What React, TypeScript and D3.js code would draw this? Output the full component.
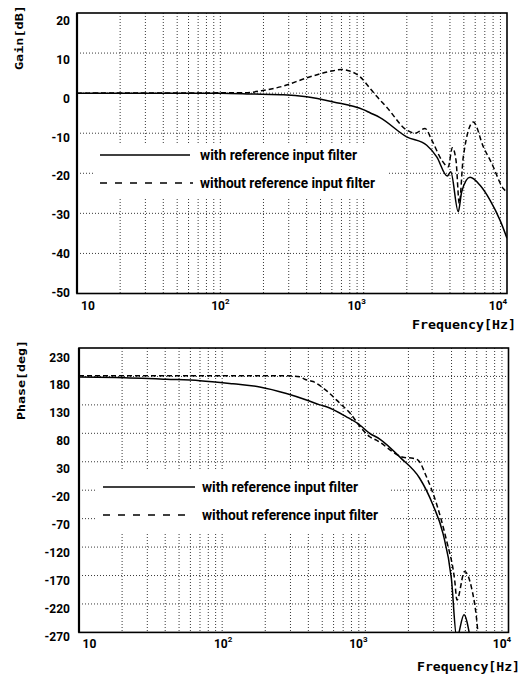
import React from 'react';
import * as d3 from 'd3';

// ---------- data ----------
const gainTicks = [20, 10, 0, -10, -20, -30, -40, -50];
const phaseTicks = [230, 180, 130, 80, 30, -20, -70, -120, -170, -220, -270];
const decades = [10, 100, 1000, 10000];
const decadeExps = ['', '2', '3', '4'];
const legendLabels = ['with reference input filter', 'without reference input filter'];

// Gain [dB] with reference input filter (solid)
const gainFreqWith = [10, 100, 161, 194, 275, 400, 614, 994, 1107, 1300, 1996, 2754, 3234, 3833, 4050, 4571, 4830, 5520, 6487, 7610, 8935, 10000];
const gainWith = [0, 0, -0.2, -0.3, -0.4, -0.9, -2.2, -4.1, -4.9, -6.1, -10.9, -13, -15.9, -20.7, -19.6, -29.6, -24.6, -21, -23, -26.7, -31.7, -36.2];

// Gain [dB] without reference input filter (dashed)
const gainFreqWithout = [10, 150, 194, 275, 400, 614, 700, 800, 943, 1107, 1233, 1448, 1996, 2281, 2679, 2984, 3504, 3895, 4154, 4406, 4645, 4955, 5820, 6840, 7820, 9420, 10000];
const gainWithout = [0, 0.1, 0.6, 1.75, 3.8, 5.6, 5.9, 5.5, 4.1, 1.2, -0.8, -3.5, -9.2, -10, -8.8, -11.7, -16.7, -18.4, -13.6, -16.7, -27.5, -15.9, -7.2, -13.4, -17.5, -23.8, -24.7];

// Phase [deg] with reference input filter (solid)
const phaseFreqWith = [10, 18, 41, 70, 119, 183, 281, 388, 481, 535, 738, 914, 1073, 1261, 1780, 2397, 2968, 3486, 3990, 4350, 4886, 5400];
const phaseWith = [179, 178, 175, 172.6, 167, 161.5, 150, 138.6, 130, 126.8, 109, 94.6, 80, 70, 36, 1, -46, -96, -175, -280, -239, -280];

// Phase [deg] without reference input filter (dashed)
const phaseFreqWithout = [10, 70, 281, 348, 378, 432, 535, 663, 778, 939, 1073, 1195, 1833, 2153, 2333, 2669, 3134, 3680, 4207, 4365, 4940, 5499, 5960, 6118, 6300];
const phaseWithout = [181, 181, 181, 179.6, 175, 171, 155, 133, 116, 89, 74, 68, 38, 36, 33, 4, -43, -107, -178, -213, -163, -190, -242, -270, -290];

// ---------- drawing ----------
const tickFont = 'Roboto, "DejaVu Sans", sans-serif';
const titleFont = '"DejaVu Sans Mono", monospace';

type Series = { f: number[]; v: number[]; dash?: string };

type PanelProps = {
  id: string;
  x0: number; x1: number; top: number; bottom: number;
  yDomain: [number, number];
  ticks: number[];
  labelY: [number, number];
  yTitle: string; yTitleX: number; yTitleY: number; yTitleLen: number;
  freqX: number; freqY: number; freqLen: number;
  box: [number, number, number, number];
  legendYs: number[]; legendX0: number; legendX1s: number[]; textX: number; textLens: number[];
  decadeY: number; decadeOffsets: number[];
  series: Series[];
};

function Panel(p: PanelProps) {
  const xs = d3.scaleLog().domain([10, 10000]).range([p.x0, p.x1]);
  const ys = d3.scaleLinear().domain(p.yDomain).range([p.bottom, p.top]);
  const ls = d3.scaleLinear().domain([p.ticks[0], p.ticks[p.ticks.length - 1]]).range(p.labelY);
  const minor: number[] = [];
  [10, 100, 1000].forEach((d) => { for (let k = 2; k <= 10; k++) if (d * k < 10000) minor.push(d * k); });
  const line = d3.line<[number, number]>().x((d) => xs(d[0])).y((d) => ys(d[1])).curve(d3.curveMonotoneX);
  const gridStyle = { stroke: '#222', strokeWidth: 0.9, strokeDasharray: '1,2' };
  return (
    <g>
      <defs>
        <clipPath id={p.id}>
          <rect x={p.x0} y={p.top} width={p.x1 - p.x0} height={p.bottom - p.top} />
        </clipPath>
      </defs>
      {p.ticks.slice(1, -1).map((t) => (
        <line key={'h' + t} x1={p.x0} x2={p.x1} y1={ys(t)} y2={ys(t)} {...gridStyle} />
      ))}
      {minor.map((f) => (
        <line key={'v' + f} x1={xs(f)} x2={xs(f)} y1={p.top} y2={p.bottom} {...gridStyle} />
      ))}
      <rect x={p.box[0]} y={p.box[1]} width={p.box[2] - p.box[0]} height={p.box[3] - p.box[1]} fill="#fff" />
      <g clipPath={`url(#${p.id})`}>
        {p.series.map((s, i) => (
          <path key={i} d={line(d3.zip(s.f, s.v) as [number, number][]) || ''} fill="none" stroke="#000"
            strokeWidth={1.5} strokeDasharray={s.dash} />
        ))}
      </g>
      <rect x={p.x0} y={p.top} width={p.x1 - p.x0} height={p.bottom - p.top} fill="none" stroke="#000" strokeWidth={1.6} />
      <line x1={p.x0} x2={p.x0} y1={p.top} y2={p.bottom} stroke="#000" strokeWidth={2.2} />
      {legendLabels.map((lab, i) => (
        <g key={lab}>
          <line x1={p.legendX0} x2={p.legendX1s[i]} y1={p.legendYs[i]} y2={p.legendYs[i]} stroke="#000"
            strokeWidth={1.4} strokeDasharray={i === 1 ? '7,8' : undefined} />
          <text x={p.textX} y={p.legendYs[i]} dominantBaseline="central" fontFamily={tickFont} fontWeight="bold"
            fontSize={14} textLength={p.textLens[i]} lengthAdjust="spacingAndGlyphs">{lab}</text>
        </g>
      ))}
      {p.ticks.map((t) => (
        <text key={'l' + t} x={70} y={ls(t)} textAnchor="end" dominantBaseline="central" fontFamily={tickFont}
          fontWeight="bold" fontSize={12}>{t}</text>
      ))}
      {decades.map((d, i) => (
        <text key={'d' + d} x={xs(d) + p.decadeOffsets[i]} y={p.decadeY} textAnchor="middle" dominantBaseline="central"
          fontFamily={tickFont} fontWeight="bold" fontSize={12}>
          10{decadeExps[i] ? <tspan fontSize={8} dy={-5}>{decadeExps[i]}</tspan> : null}
        </text>
      ))}
      <text transform={`translate(${p.yTitleX},${p.yTitleY}) rotate(-90)`} textAnchor="middle" dominantBaseline="central"
        fontFamily={titleFont} fontWeight="bold" fontSize={11} textLength={p.yTitleLen} lengthAdjust="spacingAndGlyphs">{p.yTitle}</text>
      <text x={p.freqX} y={p.freqY} dominantBaseline="central" fontFamily={titleFont} fontWeight="bold" fontSize={12}
        textLength={p.freqLen} lengthAdjust="spacingAndGlyphs">Frequency[Hz]</text>
    </g>
  );
}

export default function App() {
  return (
    <svg width={522} height={678} style={{ position: 'absolute', left: 0, top: 0, background: '#fff' }}>
      <rect width={522} height={678} fill="#fff" />
      <Panel id="clipGain" x0={77} x1={507} top={13} bottom={293.5} yDomain={[-50, 20]} ticks={gainTicks}
        labelY={[20.7, 293.3]} yTitle="Gain[dB]" yTitleX={19} yTitleY={37.5} yTitleLen={65}
        freqX={412} freqY={325} freqLen={104} box={[93, 143, 388, 199]}
        legendYs={[155, 183]} legendX0={100} legendX1s={[190, 193]} textX={200} textLens={[157, 175]}
        decadeY={306} decadeOffsets={[11, 0, -7, -9]}
        series={[{ f: gainFreqWith, v: gainWith }, { f: gainFreqWithout, v: gainWithout, dash: '5,3' }]} />
      <Panel id="clipPhase" x0={79} x1={508.5} top={348} bottom={632.4} yDomain={[-270, 230]} ticks={phaseTicks}
        labelY={[357.5, 637]} yTitle="Phase[deg]" yTitleX={21} yTitleY={380} yTitleLen={80}
        freqX={417} freqY={667} freqLen={103} box={[97, 471, 389, 532]}
        legendYs={[487, 515]} legendX0={103} legendX1s={[195, 192]} textX={202} textLens={[156, 176]}
        decadeY={644} decadeOffsets={[10.5, 1, -7, -6.5]}
        series={[{ f: phaseFreqWith, v: phaseWith }, { f: phaseFreqWithout, v: phaseWithout, dash: '5,3' }]} />
    </svg>
  );
}
